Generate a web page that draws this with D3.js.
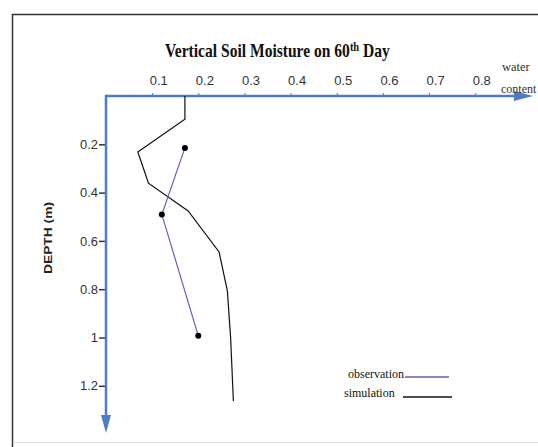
<!DOCTYPE html>
<html>
<head>
<meta charset="utf-8">
<script src="https://cdnjs.cloudflare.com/ajax/libs/d3/7.8.5/d3.min.js"></script>
<style>
  body { margin: 0; background: #fff; }
  svg { display: block; }
</style>
</head>
<body>
<div id="chart"></div>
<script>
var svgWidth = 538;
var svgHeight = 447;

// data
var xTicks = [0.1, 0.2, 0.3, 0.4, 0.5, 0.6, 0.7, 0.8];
var yTicks = [0.2, 0.4, 0.6, 0.8, 1, 1.2];

var simWater = [0.171, 0.171, 0.069, 0.092, 0.178, 0.245, 0.263, 0.27, 0.276];
var simDepth = [0, 0.096, 0.232, 0.361, 0.476, 0.646, 0.807, 1.0, 1.263];

var obsWater = [0.171, 0.121, 0.2];
var obsDepth = [0.215, 0.491, 0.993];

var axisBlue = "#4f7cc6";
var obsColor = "#6461b8";

var svg = d3.select("#chart")
    .append("svg")
    .attr("width", svgWidth)
    .attr("height", svgHeight);

// outer frame: dark top and left, faint bottom
svg.append("line")
    .attr("x1", 12).attr("y1", 14.5).attr("x2", 538).attr("y2", 14.5)
    .attr("stroke", "#333").attr("stroke-width", 1.5);
svg.append("line")
    .attr("x1", 12.5).attr("y1", 14).attr("x2", 12.5).attr("y2", 447)
    .attr("stroke", "#333").attr("stroke-width", 1.5);
svg.append("line")
    .attr("x1", 13).attr("y1", 442.5).attr("x2", 538).attr("y2", 442.5)
    .attr("stroke", "#e2e2e2").attr("stroke-width", 1);

// scales
var xScale = d3.scaleLinear().domain([0, 1]).range([106, 567.5]);
var yScale = d3.scaleLinear().domain([0, 1]).range([96, 337.5]);

// title, squeezed to the width seen in the picture
var title = svg.append("text")
    .attr("x", 0)
    .attr("y", 0)
    .style("font-family", "'Liberation Serif', 'Times New Roman', serif")
    .style("font-weight", "bold")
    .style("font-size", "18px")
    .attr("fill", "#111");
title.append("tspan").text("Vertical Soil Moisture on 60");
title.append("tspan").text("th")
    .attr("dy", -6)
    .style("font-size", "12px");
title.append("tspan").text(" Day")
    .attr("dy", 6);
var tb = title.node().getBBox();
var sx = 225 / tb.width;
title.attr("transform", `translate(165, 57) scale(${sx}, 1)`);

// x axis (top)
var topAxis = d3.axisTop(xScale)
    .tickValues(xTicks)
    .tickSize(3)
    .tickPadding(8)
    .tickFormat(d3.format(".1f"));

var xAxisG = svg.append("g")
    .attr("transform", `translate(0, ${yScale(0)})`)
    .call(topAxis);
xAxisG.select(".domain").remove();
xAxisG.selectAll(".tick line").attr("stroke", axisBlue);
xAxisG.selectAll(".tick text")
    .attr("text-anchor", "start")
    .attr("x", -3)
    .style("font-family", "'Liberation Sans', Arial, sans-serif")
    .style("font-size", "13px")
    .attr("fill", "#333");

// y axis (left)
var leftAxis = d3.axisLeft(yScale)
    .tickValues(yTicks)
    .tickSize(7)
    .tickPadding(1)
    .tickFormat(d3.format("~g"));

var yAxisG = svg.append("g")
    .attr("transform", `translate(${xScale(0)}, 0)`)
    .call(leftAxis);
yAxisG.select(".domain").remove();
yAxisG.selectAll(".tick line").attr("stroke", "#333").attr("stroke-width", 1.5);
yAxisG.selectAll(".tick text")
    .style("font-family", "'Liberation Sans', Arial, sans-serif")
    .style("font-size", "13px")
    .attr("fill", "#333");

// axis lines with arrows
var x0 = xScale(0), y0 = yScale(0);
svg.append("line")
    .attr("x1", x0).attr("y1", y0)
    .attr("x2", 516).attr("y2", y0)
    .attr("stroke", axisBlue)
    .attr("stroke-width", 2.5);
svg.append("path")
    .attr("d", `M514,${y0 - 5}L533,${y0}L514,${y0 + 5}Z`)
    .attr("fill", axisBlue);

svg.append("line")
    .attr("x1", x0).attr("y1", y0 - 1.25)
    .attr("x2", x0).attr("y2", 417)
    .attr("stroke", axisBlue)
    .attr("stroke-width", 2.5);
svg.append("path")
    .attr("d", `M${x0 - 5},415L${x0},433L${x0 + 5},415Z`)
    .attr("fill", axisBlue);

// axis titles
svg.append("text")
    .attr("transform", "translate(52, 238) rotate(-90)")
    .attr("text-anchor", "middle")
    .attr("textLength", 72)
    .attr("lengthAdjust", "spacingAndGlyphs")
    .style("font-family", "'Liberation Sans', Arial, sans-serif")
    .style("font-weight", "bold")
    .style("font-size", "11px")
    .attr("fill", "#222")
    .text("DEPTH (m)");

svg.append("text")
    .attr("x", 502)
    .attr("y", 71)
    .style("font-family", "'Liberation Serif', 'Times New Roman', serif")
    .style("font-size", "12.5px")
    .attr("fill", "#333")
    .text("water");
svg.append("text")
    .attr("x", 501)
    .attr("y", 93)
    .style("font-family", "'Liberation Serif', 'Times New Roman', serif")
    .style("font-size", "12px")
    .attr("fill", "#333")
    .text("content");

// lines
var line = d3.line()
    .x(d => xScale(d[0]))
    .y(d => yScale(d[1]));

var simData = simWater.map((w, i) => [w, simDepth[i]]);
var obsData = obsWater.map((w, i) => [w, obsDepth[i]]);

svg.append("path")
    .datum(simData)
    .attr("d", line)
    .attr("fill", "none")
    .attr("stroke", "#111")
    .attr("stroke-width", 1.2);

svg.append("path")
    .datum(obsData)
    .attr("d", line)
    .attr("fill", "none")
    .attr("stroke", obsColor)
    .attr("stroke-width", 1.2);

svg.selectAll("circle.obs")
    .data(obsData)
    .enter()
    .append("circle")
    .attr("class", "obs")
    .attr("cx", d => xScale(d[0]))
    .attr("cy", d => yScale(d[1]))
    .attr("r", 3)
    .attr("fill", "#000");

// legend
var legend = svg.append("g")
    .style("font-family", "'Liberation Serif', 'Times New Roman', serif")
    .style("font-size", "12px");

legend.append("text").attr("x", 348).attr("y", 378).attr("fill", "#111").text("observation");
legend.append("line")
    .attr("x1", 405).attr("x2", 449)
    .attr("y1", 377).attr("y2", 377)
    .attr("stroke", obsColor).attr("stroke-width", 1.5);

legend.append("text").attr("x", 344).attr("y", 397).attr("fill", "#111").text("simulation");
legend.append("line")
    .attr("x1", 403).attr("x2", 452)
    .attr("y1", 397).attr("y2", 397)
    .attr("stroke", "#111").attr("stroke-width", 1.5);
</script>
</body>
</html>
